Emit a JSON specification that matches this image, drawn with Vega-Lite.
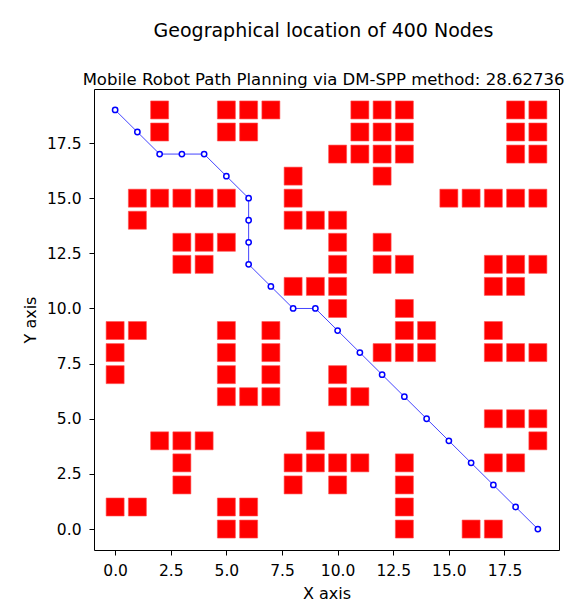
{
  "$schema": "https://vega.github.io/schema/vega-lite/v6.json",
  "autosize": {"type": "none"},
  "width": 465,
  "height": 461,
  "padding": {"left": 94, "top": 89, "right": 17, "bottom": 60},
  "background": "white",
  "config": {
    "font": "DejaVu Sans",
    "view": {"stroke": "black", "strokeWidth": 1},
    "axis": {
      "grid": false,
      "domain": false,
      "tickColor": "black",
      "tickSize": 5,
      "labelColor": "black",
      "labelFontSize": 15.5,
      "labelFont": "DejaVu Sans",
      "titleFont": "DejaVu Sans",
      "titleFontSize": 16,
      "titleFontWeight": "normal",
      "titleColor": "black",
      "labelPadding": 8
    }
  },
  "title": {
    "text": "Geographical location of 400 Nodes",
    "subtitle": "Mobile Robot Path Planning via DM-SPP method: 28.62736",
    "anchor": "middle",
    "dx": -3,
    "font": "DejaVu Sans",
    "fontSize": 19,
    "fontWeight": "normal",
    "color": "black",
    "subtitleFont": "DejaVu Sans",
    "subtitleFontSize": 16.5,
    "subtitleColor": "black",
    "subtitlePadding": 31,
    "offset": 1
  },
  "datasets": {
    "obstacles": [
      {"x": 2, "y": 19}, {"x": 5, "y": 19}, {"x": 6, "y": 19}, {"x": 7, "y": 19}, {"x": 11, "y": 19}, {"x": 12, "y": 19}, {"x": 13, "y": 19}, {"x": 18, "y": 19}, {"x": 19, "y": 19},
      {"x": 2, "y": 18}, {"x": 5, "y": 18}, {"x": 6, "y": 18}, {"x": 11, "y": 18}, {"x": 12, "y": 18}, {"x": 13, "y": 18}, {"x": 18, "y": 18}, {"x": 19, "y": 18},
      {"x": 10, "y": 17}, {"x": 11, "y": 17}, {"x": 12, "y": 17}, {"x": 13, "y": 17}, {"x": 18, "y": 17}, {"x": 19, "y": 17},
      {"x": 8, "y": 16}, {"x": 12, "y": 16},
      {"x": 1, "y": 15}, {"x": 2, "y": 15}, {"x": 3, "y": 15}, {"x": 4, "y": 15}, {"x": 5, "y": 15}, {"x": 8, "y": 15}, {"x": 15, "y": 15}, {"x": 16, "y": 15}, {"x": 17, "y": 15}, {"x": 18, "y": 15}, {"x": 19, "y": 15},
      {"x": 1, "y": 14}, {"x": 8, "y": 14}, {"x": 9, "y": 14}, {"x": 10, "y": 14},
      {"x": 3, "y": 13}, {"x": 4, "y": 13}, {"x": 5, "y": 13}, {"x": 10, "y": 13}, {"x": 12, "y": 13},
      {"x": 3, "y": 12}, {"x": 4, "y": 12}, {"x": 10, "y": 12}, {"x": 12, "y": 12}, {"x": 13, "y": 12}, {"x": 17, "y": 12}, {"x": 18, "y": 12}, {"x": 19, "y": 12},
      {"x": 8, "y": 11}, {"x": 9, "y": 11}, {"x": 10, "y": 11}, {"x": 17, "y": 11}, {"x": 18, "y": 11},
      {"x": 10, "y": 10}, {"x": 13, "y": 10},
      {"x": 0, "y": 9}, {"x": 1, "y": 9}, {"x": 5, "y": 9}, {"x": 7, "y": 9}, {"x": 13, "y": 9}, {"x": 14, "y": 9}, {"x": 17, "y": 9},
      {"x": 0, "y": 8}, {"x": 5, "y": 8}, {"x": 7, "y": 8}, {"x": 12, "y": 8}, {"x": 13, "y": 8}, {"x": 14, "y": 8}, {"x": 17, "y": 8}, {"x": 18, "y": 8}, {"x": 19, "y": 8},
      {"x": 0, "y": 7}, {"x": 5, "y": 7}, {"x": 7, "y": 7}, {"x": 10, "y": 7},
      {"x": 5, "y": 6}, {"x": 6, "y": 6}, {"x": 7, "y": 6}, {"x": 10, "y": 6}, {"x": 11, "y": 6},
      {"x": 17, "y": 5}, {"x": 18, "y": 5}, {"x": 19, "y": 5},
      {"x": 2, "y": 4}, {"x": 3, "y": 4}, {"x": 4, "y": 4}, {"x": 9, "y": 4}, {"x": 19, "y": 4},
      {"x": 3, "y": 3}, {"x": 8, "y": 3}, {"x": 9, "y": 3}, {"x": 10, "y": 3}, {"x": 11, "y": 3}, {"x": 13, "y": 3}, {"x": 17, "y": 3}, {"x": 18, "y": 3},
      {"x": 3, "y": 2}, {"x": 8, "y": 2}, {"x": 10, "y": 2}, {"x": 13, "y": 2},
      {"x": 0, "y": 1}, {"x": 1, "y": 1}, {"x": 5, "y": 1}, {"x": 6, "y": 1}, {"x": 13, "y": 1},
      {"x": 5, "y": 0}, {"x": 6, "y": 0}, {"x": 13, "y": 0}, {"x": 16, "y": 0}, {"x": 17, "y": 0}
    ],
    "path": [
      {"i": 0, "x": 0, "y": 19}, {"i": 1, "x": 1, "y": 18}, {"i": 2, "x": 2, "y": 17}, {"i": 3, "x": 3, "y": 17},
      {"i": 4, "x": 4, "y": 17}, {"i": 5, "x": 5, "y": 16}, {"i": 6, "x": 6, "y": 15}, {"i": 7, "x": 6, "y": 14},
      {"i": 8, "x": 6, "y": 13}, {"i": 9, "x": 6, "y": 12}, {"i": 10, "x": 7, "y": 11}, {"i": 11, "x": 8, "y": 10},
      {"i": 12, "x": 9, "y": 10}, {"i": 13, "x": 10, "y": 9}, {"i": 14, "x": 11, "y": 8}, {"i": 15, "x": 12, "y": 7},
      {"i": 16, "x": 13, "y": 6}, {"i": 17, "x": 14, "y": 5}, {"i": 18, "x": 15, "y": 4}, {"i": 19, "x": 16, "y": 3},
      {"i": 20, "x": 17, "y": 2}, {"i": 21, "x": 18, "y": 1}, {"i": 22, "x": 19, "y": 0}
    ]
  },
  "encoding": {
    "x": {
      "field": "x", "type": "quantitative",
      "scale": {"domain": [-0.95, 19.95], "nice": false, "zero": false},
      "axis": {"title": "X axis", "values": [0, 2.5, 5, 7.5, 10, 12.5, 15, 17.5], "format": ".1f", "titlePadding": 7}
    },
    "y": {
      "field": "y", "type": "quantitative",
      "scale": {"domain": [-0.95, 19.95], "nice": false, "zero": false},
      "axis": {"title": "Y axis", "values": [0, 2.5, 5, 7.5, 10, 12.5, 15, 17.5], "format": ".1f", "titlePadding": 8}
    }
  },
  "layer": [
    {
      "data": {"name": "obstacles"},
      "mark": {"type": "square", "filled": true, "size": 324, "color": "#ff0000", "stroke": "#ff5050", "strokeWidth": 0.6, "opacity": 1}
    },
    {
      "data": {"name": "path"},
      "mark": {"type": "line", "color": "#4444ff", "strokeWidth": 1},
      "encoding": {"order": {"field": "i", "type": "quantitative"}}
    },
    {
      "data": {"name": "path"},
      "mark": {"type": "point", "shape": "circle", "filled": true, "size": 28, "fill": "white", "stroke": "#0000ff", "strokeWidth": 1.5, "opacity": 1}
    }
  ]
}
